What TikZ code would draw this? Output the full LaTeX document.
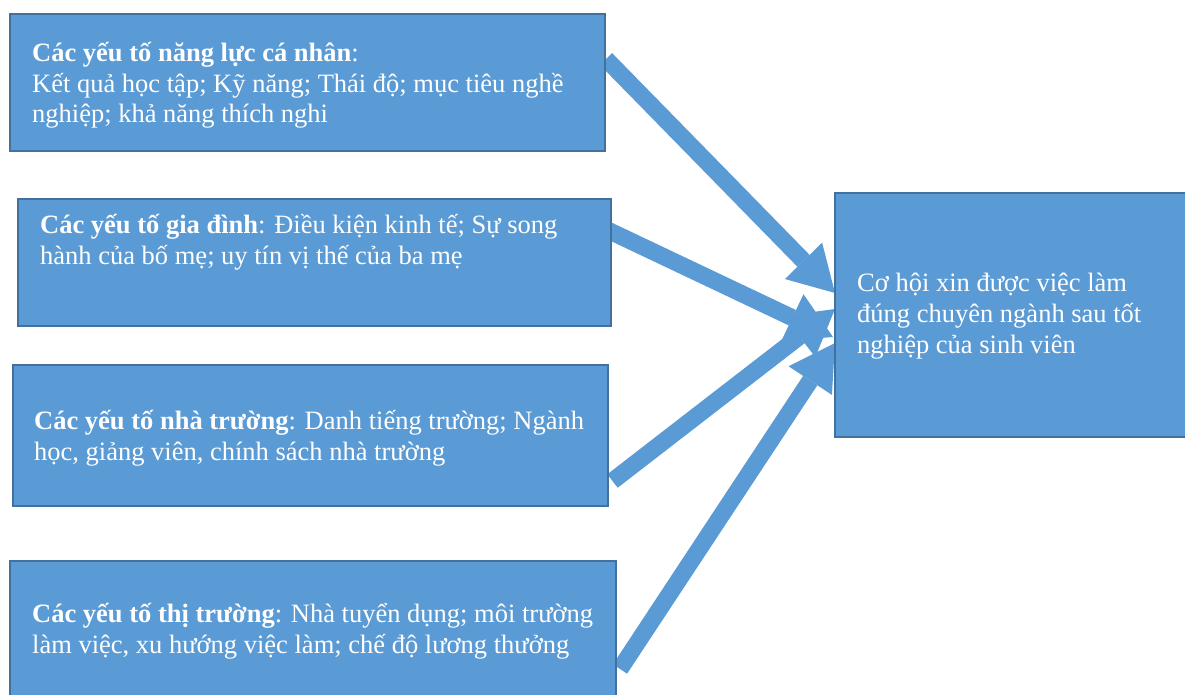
\documentclass[tikz,border=0pt]{standalone}
\usepackage{fontspec}
\setmainfont{Liberation Serif}
\usetikzlibrary{arrows.meta,backgrounds}
\definecolor{boxfill}{HTML}{5B9BD5}
\definecolor{boxline}{HTML}{41719C}
\tikzset{
  box/.style={draw=boxline, line width=2pt, fill=boxfill, rectangle, inner sep=0pt},
  boxtext/.style={text=white, align=left, inner sep=0pt, anchor=base west,
    font=\fontsize{26.5pt}{30.8pt}\selectfont},
  bigarrow/.style={draw=boxfill, line width=17pt,
    -{Triangle[length=45pt,width=52pt,line width=0pt]}}
}
\begin{document}
\begin{tikzpicture}[x=1pt,y=-1pt]
\useasboundingbox (0,0) rectangle (1185,695);
\begin{scope}[on background layer]
\fill[white] (0,0) rectangle (1185,695);
\end{scope}
% boxes
\node[box, minimum width=595pt, minimum height=137pt] (b1) at (307.5,82.5) {};
\node[box, minimum width=593pt, minimum height=127pt] (b2) at (314.5,262.5) {};
\node[box, minimum width=595pt, minimum height=141pt] (b3) at (310.5,435.5) {};
\node[box, minimum width=606pt, minimum height=144pt] (b4) at (313,633) {};
\node[box, minimum width=360pt, minimum height=244pt] (r) at (1015,315) {};
% texts (anchored at the baseline of their last line)
\node[boxtext] (t1) at (32,123) {\textbf{Các yếu tố năng lực cá nhân}:\\Kết quả học tập; Kỹ năng; Thái độ; mục tiêu nghề\\nghiệp; khả năng thích nghi};
\node[boxtext] (t2) at (40,264) {\textbf{Các yếu tố gia đình}: Điều kiện kinh tế; Sự song\\hành của bố mẹ; uy tín vị thế của ba mẹ};
\node[boxtext] (t3) at (34,460) {\textbf{Các yếu tố nhà trường}: Danh tiếng trường; Ngành\\học, giảng viên, chính sách nhà trường};
\node[boxtext] (t4) at (32,653) {\textbf{Các yếu tố thị trường}: Nhà tuyển dụng; môi trường\\làm việc, xu hướng việc làm; chế độ lương thưởng};
\node[boxtext] (tr) at (857,353) {Cơ hội xin được việc làm\\đúng chuyên ngành sau tốt\\nghiệp của sinh viên};
% connector ends
\coordinate (s1) at (606,59);
\coordinate (s2) at (608.5,230.5);
\coordinate (s3) at (612.5,481);
\coordinate (s4) at (620,669);
\coordinate (e1) at (835,293);
\coordinate (e2) at (833,337);
\coordinate (e3) at (835,309);
\coordinate (e4) at (835,343);
\begin{scope}[on background layer]
\draw[bigarrow] (s1) -- (e1);
\draw[bigarrow] (s2) -- (e2);
\draw[bigarrow] (s3) -- (e3);
\draw[bigarrow] (s4) -- (e4);
\end{scope}
\end{tikzpicture}
\end{document}
